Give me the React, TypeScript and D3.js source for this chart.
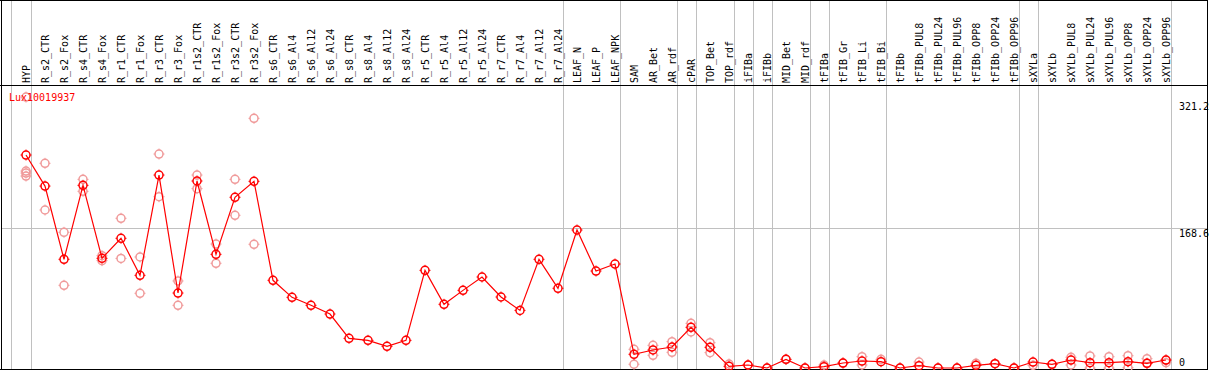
import React from "react";
import * as d3 from "d3";

const categories: string[] = [
  "HYP", "R_s2_CTR", "R_s2_Fox", "R_s4_CTR", "R_s4_Fox", "R_r1_CTR", "R_r1_Fox", "R_r3_CTR", "R_r3_Fox",
  "R_r1s2_CTR", "R_r1s2_Fox", "R_r3s2_CTR", "R_r3s2_Fox", "R_s6_CTR", "R_s6_Al4", "R_s6_Al12", "R_s6_Al24",
  "R_s8_CTR", "R_s8_Al4", "R_s8_Al12", "R_s8_Al24", "R_r5_CTR", "R_r5_Al4", "R_r5_Al12", "R_r5_Al24",
  "R_r7_CTR", "R_r7_Al4", "R_r7_Al12", "R_r7_Al24", "LEAF_N", "LEAF_P", "LEAF_NPK", "SAM", "AR_Bet", "AR_rdf",
  "cPAR", "TOP_Bet", "TOP_rdf", "iFIBa", "iFIBb", "MID_Bet", "MID_rdf", "tFIBa", "tFIB_Gr", "tFIB_Li", "tFIB_Bi",
  "tFIBb", "tFIBb_PUL8", "tFIBb_PUL24", "tFIBb_PUL96", "tFIBb_OPP8", "tFIBb_OPP24", "tFIBb_OPP96",
  "sXYLa", "sXYLb", "sXYLb_PUL8", "sXYLb_PUL24", "sXYLb_PUL96", "sXYLb_OPP8", "sXYLb_OPP24", "sXYLb_OPP96",
];

const meanValues: number[] = [
  256.5, 219.1, 130.9, 220, 132.1, 156.2, 111.6, 232.4, 90.3, 225.2, 136.9, 205.6, 224.8,
  105.6, 85.1, 75.5, 65, 35.7, 33.3, 26.1, 33.3, 117.6, 76.7, 93.5, 109.6, 85.5, 69.4, 130.9, 96,
  166.2, 116.8, 125.2, 16.5, 21.7, 25.3, 49, 24.9, 2, 3.6, 0, 10.4, 0, 1.6, 6, 8.4, 7.6,
  0, 2.8, 0, 0, 3.2, 5.2, 0, 7.2, 4.4, 9.6, 6.4, 6.4, 7.6, 5.6, 9.6,
];

const replicates: number[][] = [
  [326.3, 237.2, 234.8, 231.2], [246.5, 190.3], [163.4, 99.6], [227.2, 212.8], [135.3, 129.3],
  [180.3, 132], [133.7, 90], [257.7, 206.3], [104.8, 75.5], [232.4, 216], [149.3, 126.1],
  [227.2, 183.9], [300.7, 149], [], [], [], [], [], [], [], [], [], [], [], [], [], [], [], [],
  [], [], [], [22.5, 4.5], [27.3, 15.3], [31.7, 18.9], [53.8, 43.4], [30.5, 18.5], [4.8], [3.6], [0],
  [10.4], [0], [3.6], [6], [13.6, 3.6], [10.4], [0], [7.2], [0], [0], [5.6], [5.2], [0],
  [3.2], [4.4], [12.9, 3.6], [14.5, 0], [13.6, 0], [14.8, 0.4], [11.2, 5.6], [6.4, 9.6],
];

// group boundaries: vertical separator after these categories
const groupEnds: string[] = [
  "HYP", "R_r7_Al24", "LEAF_NPK", "AR_rdf", "cPAR", "TOP_rdf", "iFIBa", "iFIBb", "MID_rdf",
  "tFIBa", "tFIB_Bi", "tFIBb_OPP96", "sXYLa", "sXYLb_OPP96",
];

const yTicks: number[] = [321.2, 168.6, 0];
const title = "Lux10019937";

const W = 1209;
const H = 370;
const MONO = "'DejaVu Sans Mono', 'Liberation Mono', monospace";

function Marker({ x, y, color }: { x: number; y: number; color: string }) {
  const r = 4;
  const t = 5.5;
  return (
    <g stroke={color} fill="none" strokeWidth={1.5}>
      <circle cx={x} cy={y} r={r} />
      <line x1={x} y1={y - r} x2={x} y2={y - t} strokeWidth={1} />
      <line x1={x} y1={y + r} x2={x} y2={y + t} strokeWidth={1} />
      <line x1={x - r} y1={y} x2={x - t} y2={y} strokeWidth={1} />
      <line x1={x + r} y1={y} x2={x + t} y2={y} strokeWidth={1} />
    </g>
  );
}

export default function App() {
  const x = d3
    .scalePoint<string>()
    .domain(categories)
    .range([26, 26 + 19 * (categories.length - 1)]);
  const y = d3.scaleLinear().domain([0, 321.2]).range([368, 101.3]);

  const line = d3
    .line<number>()
    .x((_, i) => x(categories[i]) as number)
    .y((d) => y(d));

  const headerBottom = 85.5;

  return (
    <svg
      width={W}
      height={H}
      style={{ position: "absolute", left: 0, top: 0, background: "#fff" }}
      shapeRendering="crispEdges"
    >
      <rect x={0} y={0} width={W} height={H} fill="#fff" />
      {/* vertical group separators */}
      <line x1={11.5} x2={11.5} y1={0} y2={369} stroke="#c0c0c0" strokeWidth={1} />
      {groupEnds.map((c) => {
        const xx = Math.round((x(c) as number) + 5) + 0.5;
        return <line key={c} x1={xx} x2={xx} y1={0} y2={369} stroke="#c0c0c0" strokeWidth={1} />;
      })}
      {/* horizontal grid at middle tick */}
      <line x1={1} x2={1207} y1={Math.round(y(168.6)) + 0.5} y2={Math.round(y(168.6)) + 0.5} stroke="#c0c0c0" strokeWidth={1} />

      {/* borders */}
      <line x1={0} x2={1208} y1={0.5} y2={0.5} stroke="#000" />
      <line x1={0} x2={1208} y1={headerBottom} y2={headerBottom} stroke="#000" />
      <line x1={1.5} x2={1.5} y1={0} y2={370} stroke="#000" />
      <line x1={1207.5} x2={1207.5} y1={0} y2={370} stroke="#000" />
      <line x1={0} x2={1208} y1={369.5} y2={369.5} stroke="#000" />

      {/* category labels */}
      {categories.map((c) => {
        const xx = (x(c) as number) + 3.5;
        return (
          <text
            key={c}
            transform={`translate(${xx},83) rotate(-90)`}
            fontFamily={MONO}
            fontSize={10}
            fill="#000"
          >
            {c}
          </text>
        );
      })}

      {/* y tick labels */}
      {yTicks.map((t) => (
        <text
          key={t}
          x={1179}
          y={t === 0 ? 366 : y(t) + 9}
          fontFamily={MONO}
          fontSize={10}
          fill="#000"
        >
          {t}
        </text>
      ))}

      <g shapeRendering="auto">
        {/* replicate points */}
        {replicates.map((reps, i) =>
          reps.map((v, j) => (
            <Marker key={`${i}-${j}`} x={x(categories[i]) as number} y={y(v)} color="#f09a9a" />
          ))
        )}
        {/* mean line */}
        <path d={line(meanValues) || ""} fill="none" stroke="#ff0000" strokeWidth={1.2} />
        {meanValues.map((v, i) => (
          <Marker key={i} x={x(categories[i]) as number} y={y(v)} color="#ff0000" />
        ))}
      </g>

      <text x={9} y={101} fontFamily={MONO} fontSize={10} fill="#ff0000">
        {title}
      </text>
    </svg>
  );
}
